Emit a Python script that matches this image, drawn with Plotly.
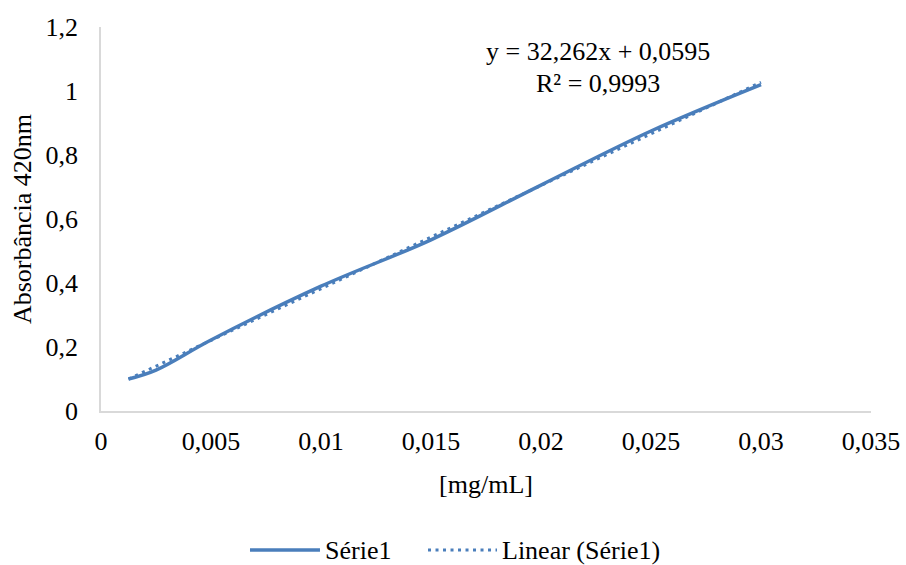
import plotly.graph_objects as go

# Data
conc = [0.00125, 0.0025, 0.005, 0.01, 0.015, 0.02, 0.025, 0.03]
absorb = [0.100, 0.128, 0.222, 0.390, 0.535, 0.706, 0.875, 1.020]

# Trendline parameters shown on the chart
slope = 32.262
intercept = 0.0595
eq_text = "y = 32,262x + 0,0595"
r2_text = "R² = 0,9993"

series_names = ["Série1", "Linear (Série1)"]

x_tickvals = [0, 0.005, 0.01, 0.015, 0.02, 0.025, 0.03, 0.035]
x_ticktext = ["0", "0,005", "0,01", "0,015", "0,02", "0,025", "0,03", "0,035"]
y_tickvals = [0, 0.2, 0.4, 0.6, 0.8, 1.0, 1.2]
y_ticktext = ["0", "0,2", "0,4", "0,6", "0,8", "1", "1,2"]

trend_x = [min(conc), max(conc)]
trend_y = [slope * v + intercept for v in trend_x]

blue = "#4A7EBB"
font_family = "Liberation Serif, Times New Roman, serif"
FS = 26
dot_dash = "3px,4.5px"

fig = go.Figure()
fig.add_trace(go.Scatter(
    x=conc, y=absorb, mode="lines", name=series_names[0], showlegend=False,
    line=dict(color=blue, width=3.5, shape="spline", smoothing=1.0),
))
fig.add_trace(go.Scatter(
    x=trend_x, y=trend_y, mode="lines", name=series_names[1], showlegend=False,
    line=dict(color=blue, width=3, dash=dot_dash),
))

# Trendline equation label (two lines)
fig.add_annotation(
    x=0.645, y=0.935, xref="paper", yref="paper", xanchor="center", yanchor="middle",
    text=eq_text, showarrow=False,
    font=dict(size=FS, color="black", family=font_family),
)
fig.add_annotation(
    x=0.645, y=0.854, xref="paper", yref="paper", xanchor="center", yanchor="middle",
    text=r2_text, showarrow=False,
    font=dict(size=FS, color="black", family=font_family),
)

# Custom legend (long line samples as in the original)
leg_y = -0.362
fig.add_shape(type="line", xref="paper", yref="paper",
              x0=0.1935, x1=0.2844, y0=leg_y, y1=leg_y,
              line=dict(color=blue, width=3.5))
fig.add_annotation(x=0.288, y=leg_y, xref="paper", yref="paper", xanchor="left",
                   yanchor="middle", text=series_names[0], showarrow=False,
                   font=dict(size=FS, color="black", family=font_family))
fig.add_shape(type="line", xref="paper", yref="paper",
              x0=0.4247, x1=0.5143, y0=leg_y, y1=leg_y,
              line=dict(color=blue, width=3, dash=dot_dash))
fig.add_annotation(x=0.518, y=leg_y, xref="paper", yref="paper", xanchor="left",
                   yanchor="middle", text=series_names[1], showarrow=False,
                   font=dict(size=FS, color="black", family=font_family))

fig.update_layout(
    width=906, height=565,
    margin=dict(l=101, r=35, t=27, b=154),
    paper_bgcolor="white", plot_bgcolor="white",
    font=dict(family=font_family, size=FS, color="black"),
    showlegend=False,
)
fig.update_xaxes(
    range=[0, 0.035], tickvals=x_tickvals, ticktext=x_ticktext, automargin=False,
    showgrid=False, zeroline=False, showline=True, linecolor="#D9D9D9", linewidth=1.5,
    ticks="outside", ticklen=6, tickcolor="rgba(0,0,0,0)",
    title=dict(text="[mg/mL]", font=dict(size=FS), standoff=20),
    tickfont=dict(size=FS),
)
fig.update_yaxes(
    range=[0, 1.2], tickvals=y_tickvals, ticktext=y_ticktext, automargin=False,
    showgrid=False, zeroline=False, showline=True, linecolor="#D9D9D9", linewidth=1.5,
    ticks="outside", ticklen=16, tickcolor="rgba(0,0,0,0)",
    title=dict(text="Absorbância 420nm", font=dict(size=FS), standoff=6),
    tickfont=dict(size=FS),
)

fig.write_html("out.html", config={"displayModeBar": False},
               post_script="document.body.style.margin='0';")
